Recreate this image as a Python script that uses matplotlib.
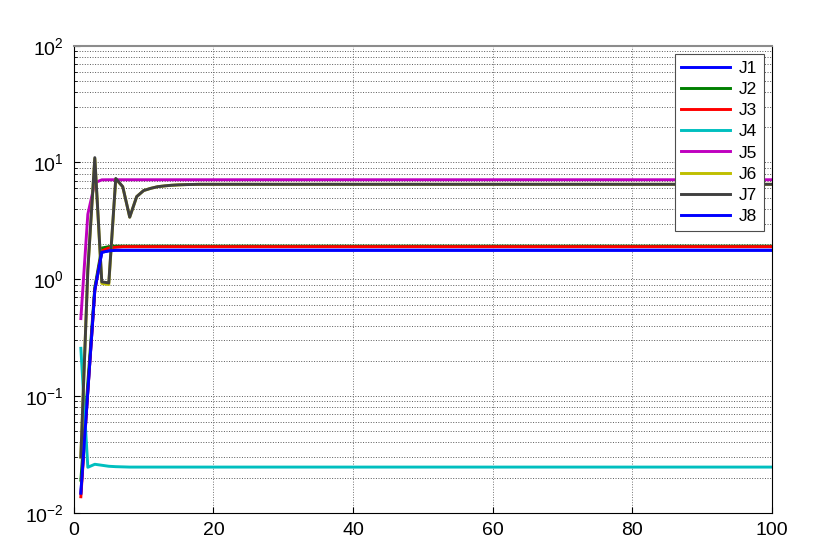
import numpy as np
import matplotlib
matplotlib.use("Agg")
import matplotlib.pyplot as plt
from matplotlib.ticker import FixedLocator, FixedFormatter, LogLocator, NullFormatter

plt.rcParams['font.family'] = ['Liberation Sans', 'DejaVu Sans']
plt.rcParams['mathtext.default'] = 'regular'

# first samples, after which every series stays flat
n_steps = 100
labels = ['J1', 'J2', 'J3', 'J4', 'J5', 'J6', 'J7', 'J8']

j1_start = [0.0147, 0.11, 0.81, 1.70, 1.75, 1.77]
j2_start = [0.019, 0.13, 0.85, 1.85, 1.90, 1.92]
j3_start = [0.0137, 0.11, 0.80, 1.75, 1.85, 1.88, 1.90]
j4_start = [0.256, 0.0245, 0.026, 0.0255, 0.0250, 0.0248, 0.0247, 0.0246]
j5_start = [0.46, 3.6, 6.7, 7.1, 7.11]
j6_start = [0.030, 1.2, 10.8, 0.92, 0.90, 7.2, 6.2, 3.4, 5.1, 5.75, 6.0, 6.2,
            6.3, 6.38, 6.43, 6.46, 6.48, 6.5]
j7_start = [0.030, 1.2, 11.0, 0.95, 0.93, 7.3, 6.2, 3.4, 5.1, 5.75, 6.0, 6.2,
            6.3, 6.38, 6.43, 6.46, 6.48, 6.5]
j8_start = [0.0147, 0.11, 0.81, 1.70, 1.75, 1.77]

final_levels = [1.77, 1.92, 1.90, 0.0246, 7.11, 6.5, 6.5, 1.77]

colors = [(0, 0, 1), (0, 0.5, 0), (1, 0, 0), (0, 0.75, 0.75),
          (0.75, 0, 0.75), (0.75, 0.75, 0), (0.25, 0.25, 0.25), (0, 0, 1)]


def extend(start, level):
    return np.concatenate([start, np.full(n_steps - len(start), level)])


starts = [j1_start, j2_start, j3_start, j4_start, j5_start, j6_start, j7_start, j8_start]
x = np.arange(1, n_steps + 1)

fig = plt.figure(figsize=(8.3, 5.54), dpi=100)
ax = fig.add_axes([0.089, 0.0745, 0.841, 0.843])

for s, lev, c, lab in zip(starts, final_levels, colors, labels):
    ax.plot(x, extend(s, lev), color=c, linewidth=2.1, label=lab)

ax.set_yscale('log')
ax.set_xlim(0, 100)
ax.set_ylim(1e-2, 1e2)

ax.xaxis.set_major_locator(FixedLocator([0, 20, 40, 60, 80, 100]))
ax.yaxis.set_major_locator(FixedLocator([1e-2, 1e-1, 1e0, 1e1, 1e2]))
ax.yaxis.set_major_formatter(FixedFormatter(['$10^{-2}$', '$10^{-1}$', '$10^{0}$',
                                             '$10^{1}$', '$10^{2}$']))
ax.yaxis.set_minor_locator(LogLocator(base=10, subs=np.arange(2, 10)))
ax.yaxis.set_minor_formatter(NullFormatter())

ax.tick_params(axis='both', which='both', direction='in', labelsize=14, pad=7)
ax.tick_params(axis='both', which='major', length=4)
ax.tick_params(axis='y', which='minor', length=2)

ax.grid(True, which='major', axis='x', color='0.45', linestyle=':', linewidth=0.7)
ax.grid(True, which='both', axis='y', color='0.35', linestyle=':', linewidth=0.7)

for side in ['left', 'bottom', 'right']:
    ax.spines[side].set_color('black')
ax.spines['top'].set_color('0.55')
ax.spines['top'].set_linewidth(1.5)

leg = ax.legend(loc='upper right', fontsize=12.5, handlelength=2.8, labelspacing=0.35,
                handletextpad=0.5, borderpad=0.4,
                fancybox=False, framealpha=1, edgecolor='0.3', borderaxespad=0.45)
leg.get_frame().set_linewidth(0.8)

fig.savefig('out.png', dpi=100)
